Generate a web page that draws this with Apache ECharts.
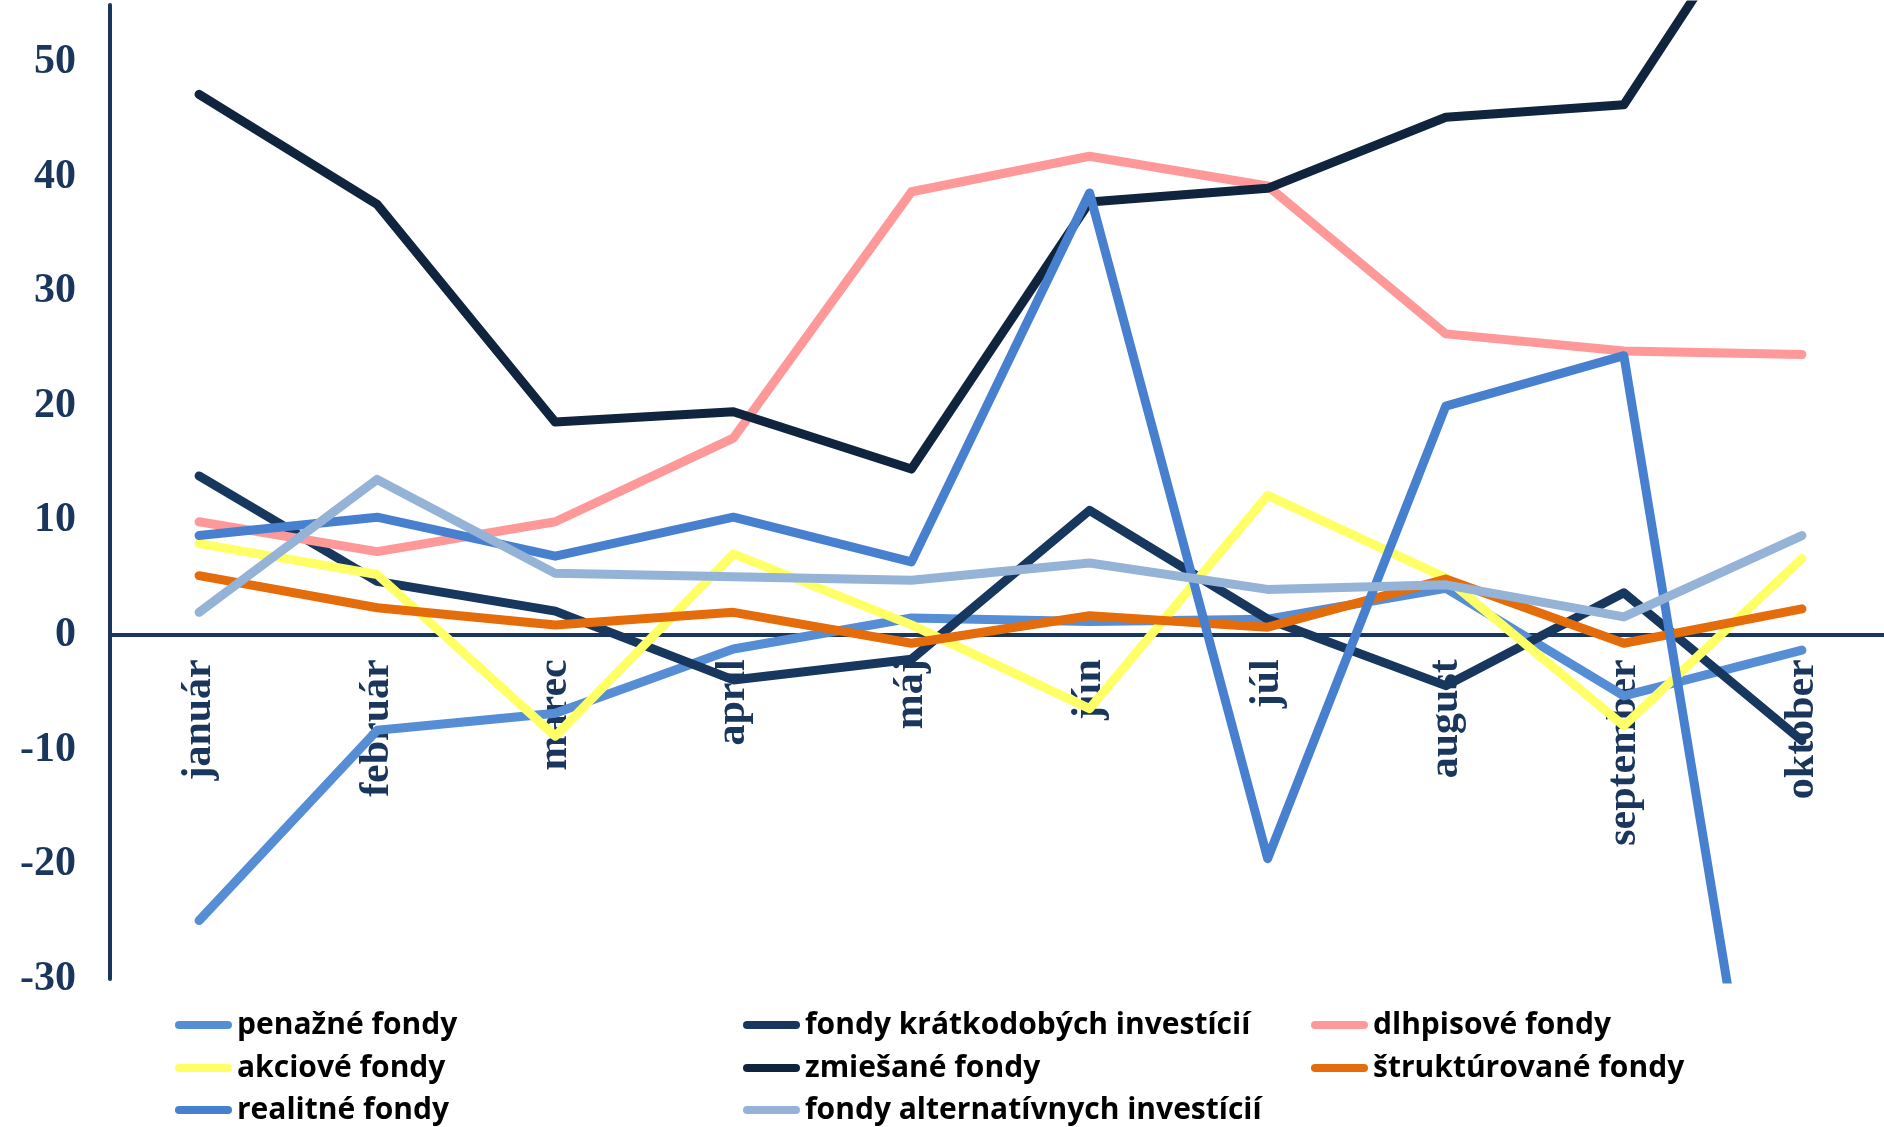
<!DOCTYPE html>
<html>
<head>
<meta charset="utf-8">
<script src="https://cdn.jsdelivr.net/npm/echarts@6/dist/echarts.min.js"></script>
<style>
  html, body { margin: 0; padding: 0; background: #fff; }
  #chart { width: 1884px; height: 1127px; }
</style>
</head>
<body>
<div id="chart"></div>
<script>
// months on the x axis
const months = ['január', 'február', 'marec', 'apríl', 'máj', 'jún', 'júl', 'august', 'september', 'október'];

// values
const penazne = [-24.9, -8.3, -6.8, -1.2, 1.5, 1.2, 1.4, 4.1, -5.3, -1.3];
const kratkodobe = [13.9, 4.7, 2.1, -3.9, -2.1, 10.9, 1.4, -4.4, 3.7, -9.2];
const dlhopisove = [9.9, 7.3, 9.9, 17.2, 38.7, 41.8, 39.2, 26.3, 24.8, 24.5];
const akciove = [8.0, 5.3, -8.8, 7.1, 0.9, -6.4, 12.2, 5.0, -7.9, 6.7];
const zmiesane = [47.2, 37.6, 18.6, 19.5, 14.5, 37.8, 39.0, 45.2, 46.3, 70];
const strukturovane = [5.2, 2.4, 0.9, 2.0, -0.7, 1.7, 0.7, 4.9, -0.7, 2.3];
const realitne = [8.7, 10.3, 6.9, 10.3, 6.4, 38.6, -19.5, 20.0, 24.4, -70];
const alternativne = [2.0, 13.6, 5.4, 5.1, 4.8, 6.3, 4.0, 4.4, 1.6, 8.7];

const seriesNames = ['penažné fondy', 'fondy krátkodobých investícií', 'dlhpisové fondy',
  'akciové fondy', 'zmiešané fondy', 'štruktúrované fondy',
  'realitné fondy', 'fondy alternatívnych investícií'];
const seriesData = [penazne, kratkodobe, dlhopisove, akciove, zmiesane, strukturovane, realitne, alternativne];
const colors = ['#558ED5', '#17375E', '#FF9999', '#FFFF66', '#10243E', '#E46C0A', '#4780CE', '#95B3D7'];

const navy = '#1B365D';
const legendCols = [175, 743, 1311];
const legendRows = [1025, 1068, 1110];
const gridTop = 5, gridHeight = 974;

let myChart = echarts.init(document.getElementById('chart'));

let legends = seriesNames.map(function (name, i) {
  return {
    data: [name],
    left: legendCols[i % 3],
    top: legendRows[Math.floor(i / 3)] - 18,
    selectedMode: false,
    icon: 'path://M4,0 L52,0 A4,4 0 0 1 52,8 L4,8 A4,4 0 0 1 4,0 Z',
    itemWidth: 57,
    itemHeight: 9,
    padding: 0,
    textStyle: {
      fontFamily: 'Open Sans',
      fontWeight: 'bold',
      fontSize: 30,
      lineHeight: 36,
      color: '#000'
    }
  };
});

let option = {
  animation: false,
  backgroundColor: '#fff',
  legend: legends,
  grid: {
    left: 110,
    top: gridTop,
    width: 1781,
    height: gridHeight,
    outerBoundsMode: 'none',
    containLabel: false
  },
  xAxis: {
    type: 'category',
    data: months,
    boundaryGap: true,
    offset: 0,
    axisLine: { onZero: false, lineStyle: { color: navy, width: 4 } },
    axisTick: { show: false },
    axisLabel: {
      interval: 0,
      rotate: 90,
      margin: 24,
      color: navy,
      fontFamily: 'Liberation Serif',
      fontWeight: 'bold',
      fontSize: 42
    }
  },
  yAxis: {
    type: 'value',
    min: -30,
    max: 55,
    interval: 10,
    axisLine: { show: true, lineStyle: { color: navy, width: 4 } },
    axisTick: { show: false },
    splitLine: { show: false },
    axisLabel: {
      margin: 34,
      showMaxLabel: false,
      color: navy,
      fontFamily: 'Liberation Serif',
      fontWeight: 'bold',
      fontSize: 42,
      formatter: function (v) { return v % 10 === 0 ? String(v) : ''; }
    }
  },
  series: seriesNames.map(function (name, i) {
    return {
      name: name,
      type: 'line',
      data: seriesData[i],
      symbol: 'none',
      clip: true,
      itemStyle: { color: colors[i] },
      lineStyle: { color: colors[i], width: 9, cap: 'round', join: 'round' }
    };
  })
};

myChart.setOption(option);

// move the category axis (line and labels) up to the zero value
let zeroY = myChart.convertToPixel({ yAxisIndex: 0 }, 0);
myChart.setOption({ xAxis: { offset: -((gridTop + gridHeight) - zeroY) } });
</script>
</body>
</html>
